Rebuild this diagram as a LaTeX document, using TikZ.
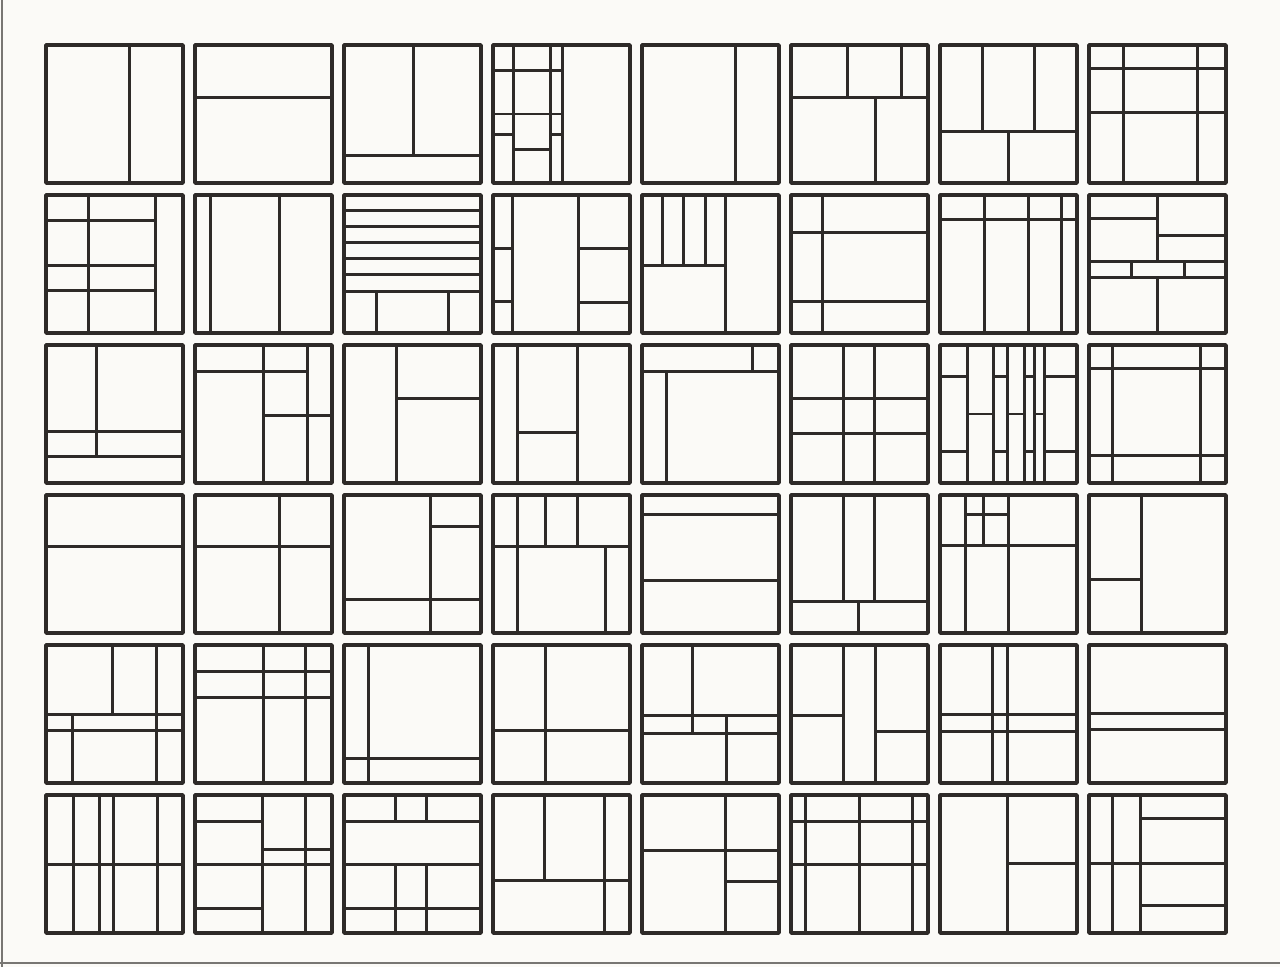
\documentclass[tikz,border=0pt]{standalone}
\usepackage{tikz}

\definecolor{paper}{RGB}{251,250,247}
\definecolor{ink}{RGB}{46,42,40}
\definecolor{scanedge}{RGB}{120,118,115}

% one square of the grid: column, row, inner cuts (unit square, y down)
\newcommand{\gridpanel}[3]{%
  \begin{scope}[shift={({0.92+2.98*#1},{0.90+3.0*#2})}, x=2.74cm, y=-2.76cm]
    #3
    \draw[frame] (0,0) rectangle (1,1);
  \end{scope}}
\newcommand{\vcut}[3]{\draw[cut] (#1,#2) -- (#1,#3);}
\newcommand{\hcut}[3]{\draw[cut] (#2,#1) -- (#3,#1);}

\begin{document}
\begin{tikzpicture}[
    x=1cm, y=-1cm,
    % line styles
    frame/.style={draw=ink, line width=2pt, line join=round},
    cut/.style={draw=ink, line width=1.7pt},
    edge/.style={draw=scanedge, line width=1.2pt}
]

% --- Page ---
\fill[paper] (0,0) rectangle (25.6,19.34);
\useasboundingbox (0,0) rectangle (25.6,19.34);
\draw[edge] (0.04,0) -- (0.04,19.34);
\draw[edge] (0,19.26) -- (25.6,19.26);

% --- Row 1 ---
\gridpanel{0}{0}{\vcut{0.61}{0}{1}}
\gridpanel{1}{0}{\hcut{0.38}{0}{1}}
\gridpanel{2}{0}{\vcut{0.51}{0}{0.80} \hcut{0.80}{0}{1}}
\gridpanel{3}{0}{
  \vcut{0.15}{0}{1} \vcut{0.42}{0}{1} \vcut{0.51}{0}{1}
  \hcut{0.185}{0}{0.51} \hcut{0.50}{0}{0.51}
  \hcut{0.645}{0}{0.15} \hcut{0.645}{0.42}{0.51} \hcut{0.76}{0.15}{0.42}}
\gridpanel{4}{0}{\vcut{0.68}{0}{1}}
\gridpanel{5}{0}{
  \hcut{0.38}{0}{1} \vcut{0.415}{0}{0.38} \vcut{0.805}{0}{0.38}
  \vcut{0.615}{0.38}{1}}
\gridpanel{6}{0}{
  \hcut{0.63}{0}{1} \vcut{0.31}{0}{0.63} \vcut{0.69}{0}{0.63}
  \vcut{0.50}{0.63}{1}}
\gridpanel{7}{0}{
  \vcut{0.25}{0}{1} \vcut{0.79}{0}{1} \hcut{0.17}{0}{1} \hcut{0.49}{0}{1}}

% --- Row 2 ---
\gridpanel{0}{1}{
  \vcut{0.31}{0}{1} \vcut{0.80}{0}{1}
  \hcut{0.185}{0}{0.80} \hcut{0.51}{0}{0.80} \hcut{0.69}{0}{0.80}}
\gridpanel{1}{1}{\vcut{0.115}{0}{1} \vcut{0.62}{0}{1}}
\gridpanel{2}{1}{
  \foreach \yy in {0.115,0.23,0.345,0.46,0.575,0.70} {\hcut{\yy}{0}{1}}
  \vcut{0.235}{0.70}{1} \vcut{0.76}{0.70}{1}}
\gridpanel{3}{1}{
  \vcut{0.145}{0}{1} \vcut{0.625}{0}{1}
  \hcut{0.39}{0}{0.145} \hcut{0.77}{0}{0.145}
  \hcut{0.385}{0.625}{1} \hcut{0.78}{0.625}{1}}
\gridpanel{4}{1}{
  \vcut{0.61}{0}{1} \hcut{0.51}{0}{0.61}
  \foreach \xx in {0.15,0.30,0.46} {\vcut{\xx}{0}{0.51}}}
\gridpanel{5}{1}{\vcut{0.23}{0}{1} \hcut{0.27}{0}{1} \hcut{0.77}{0}{1}}
\gridpanel{6}{1}{
  \hcut{0.175}{0}{1} \vcut{0.325}{0}{1} \vcut{0.645}{0}{1} \vcut{0.885}{0}{1}}
\gridpanel{7}{1}{
  \vcut{0.50}{0}{0.48} \hcut{0.167}{0}{0.50} \hcut{0.29}{0.50}{1}
  \hcut{0.48}{0}{1} \hcut{0.60}{0}{1}
  \vcut{0.31}{0.48}{0.60} \vcut{0.70}{0.48}{0.60} \vcut{0.50}{0.60}{1}}

% --- Row 3 ---
\gridpanel{0}{2}{\vcut{0.37}{0}{0.81} \hcut{0.63}{0}{1} \hcut{0.81}{0}{1}}
\gridpanel{1}{2}{
  \vcut{0.50}{0}{1} \vcut{0.82}{0}{1} \hcut{0.19}{0}{0.82} \hcut{0.51}{0.50}{1}}
\gridpanel{2}{2}{\vcut{0.38}{0}{1} \hcut{0.39}{0.38}{1}}
\gridpanel{3}{2}{\vcut{0.18}{0}{1} \vcut{0.62}{0}{1} \hcut{0.635}{0.18}{0.62}}
\gridpanel{4}{2}{\hcut{0.195}{0}{1} \vcut{0.81}{0}{0.195} \vcut{0.18}{0.195}{1}}
\gridpanel{5}{2}{
  \vcut{0.38}{0}{1} \vcut{0.61}{0}{1} \hcut{0.39}{0}{1} \hcut{0.64}{0}{1}}
\gridpanel{6}{2}{
  \foreach \xx in {0.20,0.39,0.495,0.62,0.69,0.765} {\vcut{\xx}{0}{1}}
  \foreach \xa/\xb in {0/0.20,0.39/0.495,0.62/0.69,0.765/1}
    {\hcut{0.23}{\xa}{\xb} \hcut{0.77}{\xa}{\xb}}
  \foreach \xa/\xb in {0.20/0.39,0.495/0.62,0.69/0.765} {\hcut{0.50}{\xa}{\xb}}}
\gridpanel{7}{2}{
  \vcut{0.175}{0}{1} \vcut{0.815}{0}{1} \hcut{0.17}{0}{1} \hcut{0.80}{0}{1}}

% --- Row 4 ---
\gridpanel{0}{3}{\hcut{0.37}{0}{1}}
\gridpanel{1}{3}{\vcut{0.615}{0}{1} \hcut{0.37}{0}{1}}
\gridpanel{2}{3}{\vcut{0.63}{0}{1} \hcut{0.23}{0.63}{1} \hcut{0.76}{0}{1}}
\gridpanel{3}{3}{
  \hcut{0.375}{0}{1} \vcut{0.18}{0}{1}
  \vcut{0.38}{0}{0.375} \vcut{0.62}{0}{0.375} \vcut{0.82}{0.375}{1}}
\gridpanel{4}{3}{\hcut{0.14}{0}{1} \hcut{0.62}{0}{1}}
\gridpanel{5}{3}{
  \hcut{0.77}{0}{1} \vcut{0.38}{0}{0.77} \vcut{0.61}{0}{0.77}
  \vcut{0.49}{0.77}{1}}
\gridpanel{6}{3}{
  \hcut{0.365}{0}{1} \vcut{0.185}{0}{1} \vcut{0.50}{0}{1}
  \vcut{0.315}{0}{0.365} \hcut{0.14}{0.185}{0.50}}
\gridpanel{7}{3}{\vcut{0.385}{0}{1} \hcut{0.61}{0}{0.385}}

% --- Row 5 ---
\gridpanel{0}{4}{
  \hcut{0.50}{0}{1} \hcut{0.62}{0}{1} \vcut{0.485}{0}{0.50}
  \vcut{0.805}{0}{1} \vcut{0.19}{0.50}{1}}
\gridpanel{1}{4}{
  \vcut{0.50}{0}{1} \vcut{0.81}{0}{1} \hcut{0.19}{0}{1} \hcut{0.38}{0}{1}}
\gridpanel{2}{4}{\vcut{0.18}{0}{1} \hcut{0.82}{0}{1}}
\gridpanel{3}{4}{\vcut{0.38}{0}{1} \hcut{0.62}{0}{1}}
\gridpanel{4}{4}{
  \hcut{0.51}{0}{1} \hcut{0.64}{0}{1} \vcut{0.365}{0}{0.64}
  \vcut{0.615}{0.51}{1}}
\gridpanel{5}{4}{
  \vcut{0.385}{0}{1} \vcut{0.615}{0}{1}
  \hcut{0.51}{0}{0.385} \hcut{0.63}{0.615}{1}}
\gridpanel{6}{4}{
  \vcut{0.385}{0}{1} \vcut{0.495}{0}{1} \hcut{0.505}{0}{1} \hcut{0.625}{0}{1}}
\gridpanel{7}{4}{\hcut{0.495}{0}{1} \hcut{0.61}{0}{1}}

% --- Row 6 ---
\gridpanel{0}{5}{
  \hcut{0.505}{0}{1}
  \foreach \xx in {0.20,0.39,0.495,0.815} {\vcut{\xx}{0}{1}}}
\gridpanel{1}{5}{
  \vcut{0.49}{0}{1} \vcut{0.81}{0}{1} \hcut{0.505}{0}{1}
  \hcut{0.19}{0}{0.49} \hcut{0.395}{0.49}{1} \hcut{0.82}{0}{0.49}}
\gridpanel{2}{5}{
  \hcut{0.19}{0}{1} \hcut{0.50}{0}{1} \hcut{0.82}{0}{1}
  \vcut{0.375}{0}{0.19} \vcut{0.605}{0}{0.19}
  \vcut{0.375}{0.50}{1} \vcut{0.605}{0.50}{1}}
\gridpanel{3}{5}{\vcut{0.375}{0}{0.62} \hcut{0.62}{0}{1} \vcut{0.815}{0}{1}}
\gridpanel{4}{5}{\vcut{0.61}{0}{1} \hcut{0.40}{0}{1} \hcut{0.63}{0.61}{1}}
\gridpanel{5}{5}{
  \vcut{0.105}{0}{1} \vcut{0.50}{0}{1} \vcut{0.89}{0}{1}
  \hcut{0.19}{0}{1} \hcut{0.50}{0}{1}}
\gridpanel{6}{5}{\vcut{0.49}{0}{1} \hcut{0.495}{0.49}{1}}
\gridpanel{7}{5}{
  \vcut{0.175}{0}{1} \vcut{0.375}{0}{1} \hcut{0.495}{0}{1}
  \hcut{0.17}{0.375}{1} \hcut{0.80}{0.375}{1}}

\end{tikzpicture}
\end{document}
